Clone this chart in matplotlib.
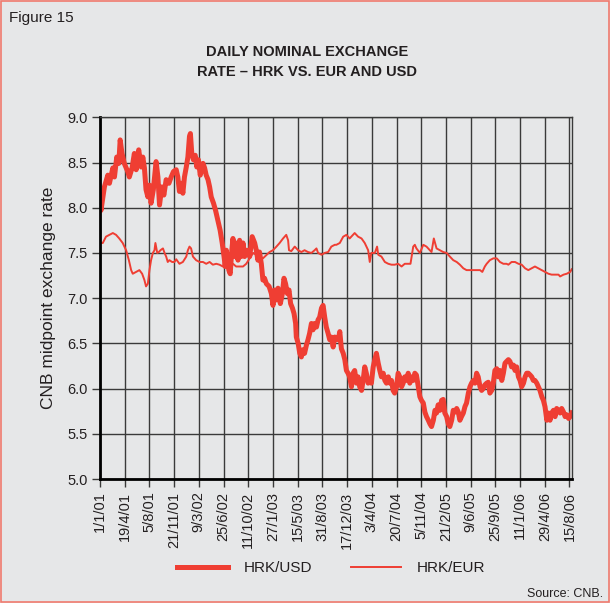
"""
Figure 15 - taux de change nominal journalier HRK vs EUR et USD.
"""
import matplotlib
matplotlib.use("Agg")
import matplotlib.pyplot as plt
import pandas as pd
from matplotlib.lines import Line2D
from matplotlib.patches import Rectangle

# --- Donnees (jours depuis le 1/1/2001) ---
usd_jours = [0, 4, 19, 34, 41, 56, 63, 73, 82, 88, 96, 106, 121, 128, 140, 150, 158, 169, 180, 187,
             194, 201, 209, 216, 223, 233, 245, 253, 260, 270, 279, 289, 301, 311, 321, 333, 340, 347,
             355, 362, 369, 377, 384, 391, 395, 401, 408, 416, 423, 430, 438, 450, 457, 464, 472, 479,
             486, 496, 505, 515, 525, 534, 542, 547, 552, 559, 563, 569, 575, 581, 588, 595, 603, 610,
             617, 625, 632, 642, 654, 665, 676, 683, 690, 697, 705, 712, 719, 727, 739, 749, 756, 763,
             771, 778, 788, 797, 804, 811, 819, 826, 833, 841, 848, 855, 858, 866, 873, 880, 887, 894,
             902, 909, 916, 924, 931, 938, 946, 953, 960, 968, 975, 982, 989, 997, 1004, 1011, 1019,
             1026, 1033, 1041, 1048, 1055, 1063, 1070, 1077, 1084, 1091, 1099, 1106, 1113, 1121, 1128,
             1135, 1143, 1150, 1157, 1164, 1172, 1179, 1186, 1194, 1201, 1208, 1216, 1223, 1230, 1238,
             1245, 1252, 1260, 1267, 1274, 1281, 1288, 1296, 1303, 1310, 1318, 1325, 1332, 1340, 1347,
             1354, 1362, 1369, 1376, 1383, 1391, 1398, 1405, 1413, 1420, 1427, 1435, 1442, 1449, 1457,
             1464, 1471, 1478, 1486, 1493, 1500, 1507, 1515, 1522, 1529, 1537, 1544, 1551, 1559, 1566,
             1573, 1580, 1588, 1595, 1602, 1610, 1617, 1624, 1632, 1639, 1646, 1653, 1661, 1668, 1675,
             1682, 1690, 1697, 1704, 1712, 1719, 1726, 1734, 1741, 1748, 1756, 1763, 1770, 1777, 1785,
             1792, 1799, 1807, 1814, 1821, 1829, 1836, 1843, 1851, 1858, 1865, 1872, 1880, 1887, 1894,
             1901, 1909, 1916, 1923, 1931, 1938, 1945, 1953, 1960, 1967, 1974, 1982, 1989, 1996, 2004,
             2011, 2018, 2026, 2033, 2040, 2048, 2055, 2062]
usd_taux = [8.14, 7.97, 8.23, 8.36, 8.27, 8.44, 8.34, 8.56, 8.49, 8.75, 8.60, 8.49, 8.40, 8.34, 8.44,
            8.60, 8.42, 8.64, 8.45, 8.56, 8.44, 8.20, 8.12, 8.25, 8.05, 8.20, 8.51, 8.34, 8.03, 8.23,
            8.14, 8.31, 8.27, 8.34, 8.40, 8.42, 8.34, 8.18, 8.27, 8.16, 8.34, 8.45, 8.56, 8.79, 8.82,
            8.60, 8.53, 8.58, 8.45, 8.53, 8.36, 8.49, 8.44, 8.36, 8.31, 8.23, 8.12, 8.05, 7.97, 7.86,
            7.75, 7.61, 7.46, 7.35, 7.53, 7.38, 7.31, 7.27, 7.50, 7.66, 7.46, 7.61, 7.42, 7.64, 7.46,
            7.61, 7.46, 7.53, 7.46, 7.68, 7.61, 7.53, 7.42, 7.51, 7.38, 7.20, 7.22, 7.16, 7.13, 7.05,
            6.92, 7.09, 6.98, 7.11, 6.94, 7.05, 7.22, 7.16, 7.05, 7.09, 6.94, 6.89, 6.83, 6.72, 6.57,
            6.50, 6.39, 6.35, 6.43, 6.39, 6.48, 6.54, 6.61, 6.72, 6.65, 6.72, 6.68, 6.76, 6.79, 6.89,
            6.92, 6.79, 6.68, 6.61, 6.54, 6.57, 6.46, 6.57, 6.55, 6.54, 6.63, 6.44, 6.39, 6.32, 6.20,
            6.17, 6.13, 6.02, 6.17, 6.20, 6.06, 6.13, 6.02, 5.98, 6.09, 6.24, 6.17, 6.06, 6.09, 6.06,
            6.24, 6.32, 6.39, 6.28, 6.20, 6.13, 6.17, 6.09, 6.06, 6.13, 6.06, 6.09, 5.98, 5.95, 6.02,
            6.17, 6.13, 6.02, 6.06, 6.13, 6.09, 6.17, 6.06, 6.13, 6.09, 6.17, 6.15, 6.02, 5.91, 5.87,
            5.84, 5.74, 5.69, 5.65, 5.61, 5.58, 5.65, 5.76, 5.73, 5.82, 5.76, 5.87, 5.88, 5.73, 5.69,
            5.61, 5.58, 5.65, 5.76, 5.74, 5.78, 5.74, 5.65, 5.69, 5.73, 5.80, 5.84, 5.95, 6.02, 6.06,
            6.09, 6.06, 6.17, 6.13, 6.02, 5.98, 6.00, 6.04, 6.06, 6.07, 5.95, 5.98, 6.06, 6.20, 6.22,
            6.13, 6.20, 6.09, 6.17, 6.28, 6.30, 6.32, 6.30, 6.24, 6.26, 6.20, 6.24, 6.13, 6.09, 6.02,
            6.06, 6.13, 6.17, 6.17, 6.15, 6.13, 6.09, 6.09, 6.06, 6.02, 5.98, 5.91, 5.87, 5.80, 5.65,
            5.73, 5.65, 5.73, 5.76, 5.69, 5.78, 5.76, 5.73, 5.78, 5.74, 5.69, 5.71, 5.67, 5.69, 5.73]

eur_jours = [0, 12, 26, 41, 56, 70, 84, 99, 114, 126, 136, 143, 158, 172, 184, 194, 201, 209, 216,
             223, 231, 238, 242, 250, 257, 264, 275, 282, 289, 296, 303, 315, 325, 333, 347, 362, 377,
             384, 391, 398, 406, 413, 420, 435, 450, 464, 479, 493, 508, 522, 537, 552, 566, 581, 595,
             610, 625, 639, 654, 669, 683, 712, 741, 756, 771, 785, 800, 814, 822, 826, 836, 851, 866,
             880, 894, 909, 924, 938, 946, 953, 968, 982, 997, 1011, 1026, 1033, 1048, 1063, 1077,
             1091, 1106, 1113, 1128, 1143, 1157, 1172, 1179, 1186, 1201, 1211, 1216, 1230, 1245, 1260,
             1274, 1288, 1303, 1318, 1332, 1347, 1357, 1369, 1376, 1383, 1398, 1413, 1427, 1442, 1449,
             1459, 1471, 1486, 1500, 1515, 1529, 1544, 1559, 1573, 1588, 1602, 1617, 1632, 1646, 1661,
             1671, 1682, 1690, 1704, 1719, 1734, 1748, 1763, 1777, 1785, 1799, 1814, 1829, 1843, 1858,
             1872, 1887, 1901, 1916, 1931, 1945, 1960, 1974, 1989, 2004, 2011, 2026, 2040, 2055, 2062]
eur_taux = [7.61, 7.61, 7.68, 7.70, 7.72, 7.70, 7.66, 7.61, 7.53, 7.42, 7.31, 7.27, 7.29, 7.31, 7.27,
            7.20, 7.13, 7.16, 7.31, 7.42, 7.50, 7.53, 7.61, 7.50, 7.51, 7.53, 7.55, 7.50, 7.46, 7.40,
            7.42, 7.40, 7.40, 7.43, 7.38, 7.40, 7.46, 7.53, 7.57, 7.55, 7.46, 7.44, 7.42, 7.40, 7.40,
            7.38, 7.40, 7.37, 7.38, 7.37, 7.35, 7.34, 7.35, 7.38, 7.35, 7.35, 7.35, 7.38, 7.44, 7.50,
            7.48, 7.44, 7.51, 7.53, 7.57, 7.61, 7.66, 7.70, 7.64, 7.53, 7.52, 7.57, 7.53, 7.51, 7.53,
            7.51, 7.50, 7.53, 7.55, 7.50, 7.48, 7.50, 7.51, 7.57, 7.59, 7.59, 7.61, 7.68, 7.70, 7.66,
            7.70, 7.72, 7.68, 7.66, 7.61, 7.53, 7.40, 7.50, 7.50, 7.57, 7.48, 7.46, 7.40, 7.38, 7.37,
            7.37, 7.38, 7.35, 7.38, 7.38, 7.38, 7.57, 7.59, 7.55, 7.50, 7.59, 7.57, 7.53, 7.51, 7.66,
            7.55, 7.53, 7.51, 7.50, 7.46, 7.42, 7.40, 7.37, 7.33, 7.31, 7.31, 7.31, 7.31, 7.31, 7.29,
            7.35, 7.38, 7.42, 7.44, 7.44, 7.40, 7.38, 7.38, 7.37, 7.40, 7.40, 7.38, 7.37, 7.33, 7.31,
            7.33, 7.35, 7.33, 7.31, 7.29, 7.27, 7.26, 7.26, 7.26, 7.24, 7.26, 7.27, 7.29, 7.32]

ticks_labels = ["1/1/01", "19/4/01", "5/8/01", "21/11/01", "9/3/02", "25/6/02", "11/10/02",
                "27/1/03", "15/5/03", "31/8/03", "17/12/03", "3/4/04", "20/7/04", "5/11/04",
                "21/2/05", "9/6/05", "25/9/05", "11/1/06", "29/4/06", "15/8/06"]

ROUGE = "#ef3e33"
FOND = "#e6e7e8"
TEXTE = "#231f20"

debut = pd.Timestamp("2001-01-01")
usd_dates = debut + pd.to_timedelta(usd_jours, unit="D")
eur_dates = debut + pd.to_timedelta(eur_jours, unit="D")
ticks_dates = pd.to_datetime(ticks_labels, format="%d/%m/%y")

plt.rcParams["font.family"] = ["Liberation Sans", "DejaVu Sans"]

# --- Figure ---
fig = plt.figure(figsize=(6.1, 6.03), dpi=100, facecolor=FOND)
fig.patches.append(Rectangle((0.001, 0.001), 0.997, 0.997, transform=fig.transFigure,
                             fill=False, edgecolor="#f07a6e", linewidth=1.2))

ax = fig.add_axes([0.164, 0.2056, 0.7737, 0.5999], facecolor=FOND)
ax.plot(usd_dates, usd_taux, color=ROUGE, linewidth=3.6, solid_joinstyle="round")
ax.plot(eur_dates, eur_taux, color=ROUGE, linewidth=1.4)

ax.set_ylim(5.0, 9.0)
ax.set_yticks([5.0, 5.5, 6.0, 6.5, 7.0, 7.5, 8.0, 8.5, 9.0])
ax.set_yticklabels([f"{v:.1f}" for v in ax.get_yticks()])
ax.set_xlim(debut, debut + pd.Timedelta(days=2063))
ax.set_xticks(ticks_dates)
ax.set_xticklabels(ticks_labels, rotation=90)

ax.grid(True, color="#3a3a3a", linewidth=1.0)
ax.set_axisbelow(True)
for cote in ["top", "right"]:
    ax.spines[cote].set_color("#3a3a3a")
    ax.spines[cote].set_linewidth(1.0)
for cote in ["left", "bottom"]:
    ax.spines[cote].set_color("black")
    ax.spines[cote].set_linewidth(2.0)
ax.tick_params(axis="both", direction="out", length=6, width=1.0, color="#3a3a3a",
               labelcolor=TEXTE)
ax.tick_params(axis="y", labelsize=10.5, pad=3)
ax.tick_params(axis="x", labelsize=10.5, pad=3)

ax.set_ylabel("CNB midpoint exchange rate", fontsize=12.5, color=TEXTE, labelpad=8)

# --- Textes ---
fig.text(0.015, 0.970, "Figure 15", fontsize=11, color=TEXTE, va="center", ha="left")
fig.text(0.503, 0.897, "DAILY NOMINAL EXCHANGE\nRATE \u2013 HRK VS. EUR AND USD", fontsize=10.5,
         fontweight="bold", color=TEXTE, ha="center", va="center", linespacing=1.6)
fig.text(0.988, 0.005, "Source: CNB.", fontsize=9, color=TEXTE, ha="right", va="bottom")

# --- Legende ---
poignees = [Line2D([], [], color=ROUGE, linewidth=3.6), Line2D([], [], color=ROUGE, linewidth=1.4)]
fig.legend(poignees, ["HRK/USD", "HRK/EUR"], loc="center", bbox_to_anchor=(0.5435, 0.058), ncol=2,
           frameon=False, fontsize=11, handlelength=3.3, handletextpad=1.05, columnspacing=2.5,
           labelcolor=TEXTE)

fig.savefig("out.png", dpi=100, facecolor=FOND)
